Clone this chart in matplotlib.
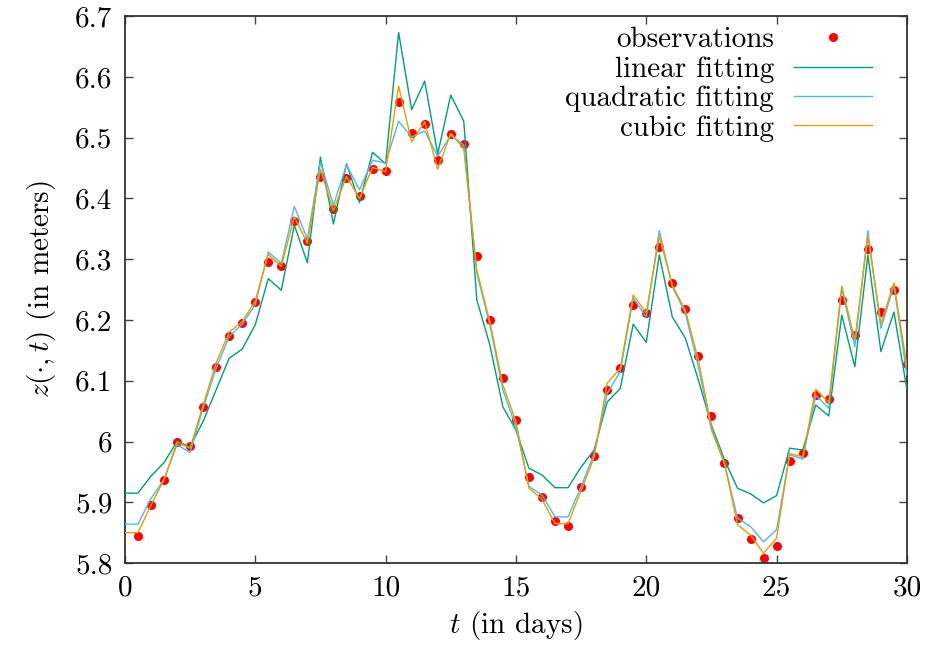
import numpy as np
import matplotlib
matplotlib.use("Agg")
import matplotlib.pyplot as plt

plt.rcParams['font.family'] = ['cmr10', 'DejaVu Serif']
plt.rcParams['mathtext.fontset'] = 'cm'
plt.rcParams['axes.formatter.use_mathtext'] = True

# observation times and water level (m)
t_obs = np.arange(1, 61) * 0.5
z_obs = [5.845, 5.895, 5.937, 6.000, 5.993, 6.057, 6.122, 6.173, 6.195, 6.229,
         6.295, 6.289, 6.363, 6.330, 6.435, 6.382, 6.433, 6.404, 6.448, 6.445,
         6.558, 6.507, 6.522, 6.463, 6.506, 6.489, 6.305, 6.200, 6.104, 6.035,
         5.942, 5.909, 5.869, 5.861, 5.925, 5.976, 6.085, 6.121, 6.225, 6.211,
         6.320, 6.261, 6.218, 6.141, 6.042, 5.965, 5.874, 5.840, 5.808, 5.828,
         5.968, 5.981, 6.076, 6.070, 6.233, 6.175, 6.317, 6.213, 6.249, 6.127]

# fitted curves, t = 0, 0.5, ..., 30
t_fit = np.arange(0, 61) * 0.5
z_lin = [5.915, 5.915, 5.943, 5.965, 6.000, 5.991, 6.033, 6.085, 6.137, 6.152,
         6.192, 6.268, 6.249, 6.356, 6.294, 6.468, 6.358, 6.457, 6.393, 6.476,
         6.457, 6.673, 6.546, 6.593, 6.473, 6.570, 6.527, 6.233, 6.159, 6.057,
         6.019, 5.956, 5.945, 5.924, 5.924, 5.958, 5.986, 6.065, 6.087, 6.193,
         6.163, 6.307, 6.205, 6.170, 6.101, 6.027, 5.970, 5.923, 5.914, 5.899,
         5.911, 5.989, 5.986, 6.060, 6.042, 6.208, 6.123, 6.307, 6.148, 6.213,
         6.085]
z_quad = [5.864, 5.864, 5.906, 5.937, 5.995, 5.982, 6.055, 6.120, 6.173, 6.193,
          6.225, 6.312, 6.293, 6.387, 6.333, 6.460, 6.389, 6.455, 6.414, 6.463,
          6.458, 6.527, 6.501, 6.511, 6.469, 6.504, 6.488, 6.277, 6.192, 6.085,
          6.024, 5.926, 5.912, 5.876, 5.876, 5.926, 5.980, 6.079, 6.115, 6.236,
          6.205, 6.347, 6.255, 6.211, 6.123, 6.019, 5.964, 5.874, 5.860, 5.835,
          5.855, 5.978, 5.971, 6.076, 6.055, 6.252, 6.156, 6.347, 6.186, 6.257,
          6.109]
z_cub = [5.850, 5.850, 5.895, 5.937, 5.999, 5.989, 6.060, 6.129, 6.180, 6.197,
         6.231, 6.308, 6.288, 6.370, 6.326, 6.448, 6.380, 6.436, 6.400, 6.451,
         6.444, 6.585, 6.493, 6.526, 6.448, 6.507, 6.482, 6.282, 6.197, 6.093,
         6.033, 5.923, 5.905, 5.865, 5.865, 5.919, 5.974, 6.096, 6.120, 6.241,
         6.212, 6.337, 6.257, 6.216, 6.134, 6.024, 5.964, 5.863, 5.846, 5.816,
         5.841, 5.980, 5.975, 6.086, 6.064, 6.256, 6.167, 6.337, 6.194, 6.261,
         6.123]

xticks = [0, 5, 10, 15, 20, 25, 30]
yticks = [5.8, 5.9, 6.0, 6.1, 6.2, 6.3, 6.4, 6.5, 6.6, 6.7]
ylabels = ['5.8', '5.9', '6', '6.1', '6.2', '6.3', '6.4', '6.5', '6.6', '6.7']

fig = plt.figure(figsize=(9.25, 6.57), dpi=100)
ax = fig.add_axes([0.135, 0.143, 0.8455, 0.8325])

ax.plot(t_obs, z_obs, 'o', color='red', markersize=6.5, markeredgewidth=0,
        label='observations', zorder=2)
ax.plot(t_fit, z_lin, color='#009e73', lw=1.0, label='linear fitting', zorder=3)
ax.plot(t_fit, z_quad, color='#56b4e9', lw=1.0, label='quadratic fitting', zorder=3)
ax.plot(t_fit, z_cub, color='#e69f00', lw=1.0, label='cubic fitting', zorder=3)

ax.set_xlim(0, 30)
ax.set_ylim(5.8, 6.7)
ax.set_xticks(xticks)
ax.set_xticklabels([str(x) for x in xticks])
ax.set_yticks(yticks)
ax.set_yticklabels(ylabels)
ax.tick_params(direction='in', length=6, width=1.0, color='#444444',
               top=True, right=True, labelsize=21, pad=9)
for s in ax.spines.values():
    s.set_linewidth(1.3)
    s.set_color('#333333')

ax.set_xlabel(r'$t$ (in days)', fontsize=21, labelpad=5)
ax.set_ylabel(r'$z(\cdot,t)$ (in meters)', fontsize=21, labelpad=12)

ax.legend(loc='upper right', bbox_to_anchor=(0.955, 0.98), frameon=False,
          markerfirst=False, fontsize=21, handlelength=2.65, handletextpad=0.7,
          labelspacing=0.1, borderpad=0, borderaxespad=0, numpoints=1)

fig.savefig('out.png', dpi=100)
